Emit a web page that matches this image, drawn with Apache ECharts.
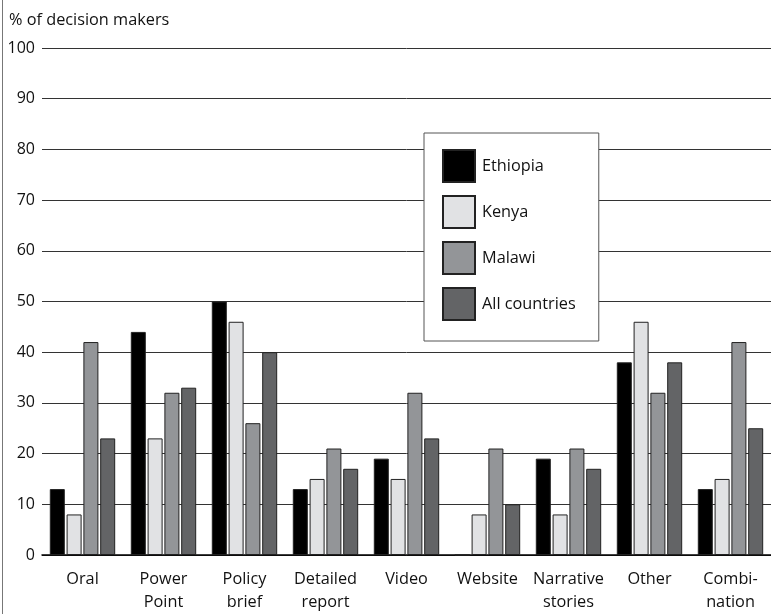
<!DOCTYPE html>
<html><head><meta charset="utf-8">
<script src="https://cdn.jsdelivr.net/npm/echarts@6/dist/echarts.min.js"></script>
<style>html,body{margin:0;padding:0;background:#fff}#c{width:771px;height:614px}</style>
</head><body><div id="c"></div>
<script>
const categories = ['Oral','Power\nPoint','Policy\nbrief','Detailed\nreport','Video','Website','Narrative\nstories','Other','Combi-\nnation'];
const ethiopia = [13,44,50,13,19,0,19,38,13];
const kenya = [8,23,46,15,15,8,8,46,15];
const malawi = [42,32,26,21,32,21,21,32,42];
const allCountries = [23,33,40,17,23,10,17,38,25];
const seriesNames = ['Ethiopia','Kenya','Malawi','All countries'];
const colors = ['#000000','#e1e2e4','#939598','#636466'];
const yTicks = {min:0,max:100,interval:10};

const font = '"Open Sans", "Noto Sans", sans-serif';
const chart = echarts.init(document.getElementById('c'), null, {renderer:'canvas'});
const dataSets = [ethiopia, kenya, malawi, allCountries];
chart.setOption({
  animation:false,
  textStyle:{fontFamily:font},
  grid:{left:42,right:-5,top:48,bottom:55,containLabel:false},
  graphic:[
    {type:'line',shape:{x1:2.5,y1:0,x2:2.5,y2:614},style:{stroke:'#777',lineWidth:1}},
    {type:'text',left:9,top:12,style:{text:'% of decision makers',font:'16.3px '+font,fill:'#111'}}
  ],
  legend:{
    orient:'vertical',left:424,top:133,
    data:seriesNames,
    itemWidth:32,itemHeight:32,itemGap:12,
    padding:[16,23,20,18],
    backgroundColor:'#fff',borderColor:'#555',borderWidth:1,
    textStyle:{fontSize:16.3,color:'#111',fontFamily:font,padding:[0,0,0,2]},
    icon:'rect'
  },
  xAxis:{
    type:'category',data:categories,
    axisLine:{lineStyle:{color:'#000',width:1.5}},
    axisTick:{alignWithLabel:true,length:12,lineStyle:{color:'#666'}},
    axisLabel:{fontSize:16.3,color:'#111',lineHeight:23,margin:13,fontFamily:font,interval:0}
  },
  yAxis:{
    type:'value',min:yTicks.min,max:yTicks.max,interval:yTicks.interval,
    axisLine:{show:false},axisTick:{show:false},
    axisLabel:{fontSize:16,color:'#111',margin:7,fontFamily:font},
    splitLine:{lineStyle:{color:'#333',width:1}}
  },
  series: seriesNames.map((n,i)=>({
    name:n,type:'bar',data:dataSets[i],
    barWidth:15,barGap:'12%',
    itemStyle:{color:colors[i],borderColor:'#222',borderWidth:1}
  }))
});
</script></body></html>
